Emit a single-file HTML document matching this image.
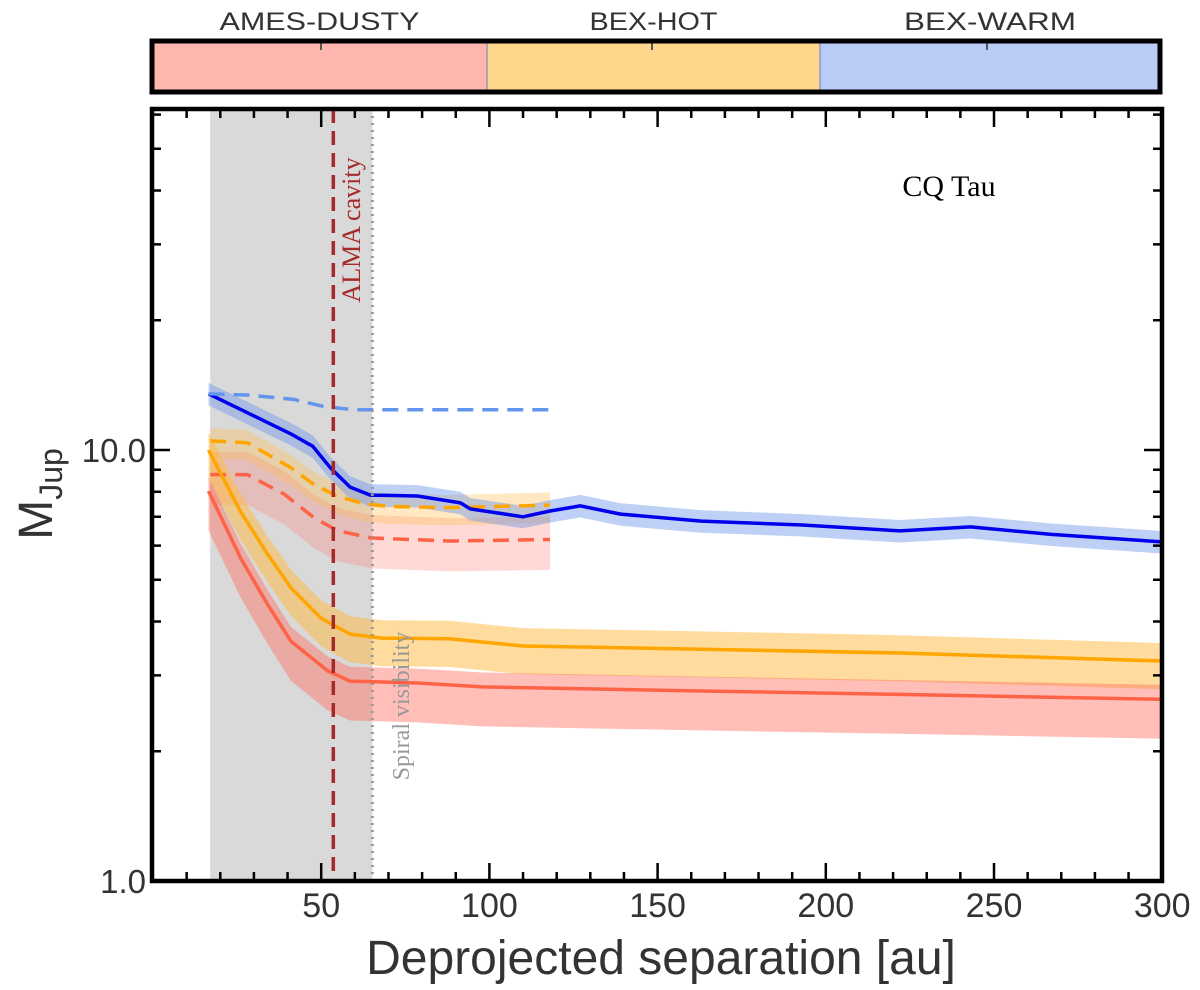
<!DOCTYPE html>
<html><head><meta charset="utf-8"><style>
body{margin:0;background:#fff;}
svg{display:block;}
text{font-family:"Liberation Sans",sans-serif;}
</style></head><body>
<svg id="c" width="1200" height="990" xmlns="http://www.w3.org/2000/svg"></svg>
<script>
// ---- data ----
const blueX=[16.5,29,41,47.5,52.7,58.6,64.6,78.6,91.4,94.3,110,118,127,139,163,193,222,243,267,300];
const blueM=[13.5,12.1,10.9,10.2,9.1,8.2,7.86,7.82,7.54,7.30,7.00,7.22,7.42,7.10,6.84,6.70,6.49,6.63,6.37,6.12];
const blueDX=[16.5,29,42,51,60,75,95,118];
const blueDM=[13.5,13.4,13.1,12.6,12.4,12.4,12.4,12.4];
const orX=[16.5,26,34,41,50,58.6,68,88,110,163,222,300];
const orM=[10.0,7.2,5.74,4.79,4.07,3.74,3.66,3.65,3.51,3.45,3.38,3.24];
const orDX=[17,28,41,48,55,63,70,88,118];
const orDM=[10.5,10.4,9.1,8.3,7.8,7.5,7.4,7.35,7.45];
const rdX=[16.5,26,34,41,52,58.6,78.6,98,163,222,300];
const rdM=[8.03,5.62,4.39,3.6,3.07,2.91,2.88,2.82,2.76,2.71,2.64];
const rdDX=[17,28,39,48,55,65,88,118];
const rdDM=[8.77,8.77,7.9,6.95,6.49,6.25,6.15,6.2];
const xTicks=[50,100,150,200,250,300];
const yTicks=[1,10];
const yTickLabels=["1.0","10.0"];
const modelNames=["AMES-DUSTY","BEX-HOT","BEX-WARM"];
const almaCavity=53.6, spiralVis=65.2, grayStart=17;

// ---- axes ----
const X0=153,XS=3.364,Y1=881,DEC=431;
const xs=v=>X0+v*XS;
const ys=m=>Y1-Math.log10(m)*DEC;
const L=152,R=1162,T=109,B=881;
const svg=document.getElementById('c');
const NS='http://www.w3.org/2000/svg';
function mk(tag,attrs,parent){const e=document.createElementNS(NS,tag);for(const k in attrs)e.setAttribute(k,attrs[k]);(parent||svg).appendChild(e);return e;}
function path(xa,ya,f){return xa.map((x,i)=>(i?'L':'M')+xs(x).toFixed(1)+','+ys(ya[i]*(f||1)).toFixed(1)).join('');}
function band(xa,ya,up,dn){const a=xa.map((x,i)=>[xs(x),ys(ya[i]*up)]);const b=xa.map((x,i)=>[xs(x),ys(ya[i]*dn)]).reverse();return 'M'+a.concat(b).map(p=>p[0].toFixed(1)+','+p[1].toFixed(1)).join('L')+'Z';}

// colorbar
const cb=[['#FFB6AE',152,487,200],['#FFD78C',487,820,128],['#B9CCF5',820,1160,172]];
cb.forEach((c,i)=>{
 let r=mk('rect',{x:c[1],y:41,width:c[2]-c[1],height:51,fill:c[0]});
 
 
 let t=mk('text',{x:(c[1]+c[2])/2,y:30,'text-anchor':'middle','font-size':'25',fill:'#333',textLength:c[3],lengthAdjust:'spacingAndGlyphs'});
 t.textContent=modelNames[i];
 
 
 mk('line',{x1:[321,652,987][i],y1:43,x2:[321,652,987][i],y2:50,stroke:'#555','stroke-width':2});
});
mk('line',{x1:487,y1:41,x2:487,y2:92,stroke:'#6a7fc0','stroke-width':1});
mk('line',{x1:820,y1:41,x2:820,y2:92,stroke:'#6a7fc0','stroke-width':1});
let cbf=mk('rect',{x:152,y:41,width:1008,height:51,fill:'none',stroke:'#000','stroke-width':5});



// gray region
let gr=mk('rect',{x:xs(grayStart),y:T,width:xs(spiralVis)-xs(grayStart),height:B-T,fill:'#d9d9d9'});



// bands
const series=[
 {n:'red-dashed',x:rdDX,m:rdDM,c:'#FF6347',b:'rgba(255,130,115,0.3)',up:1.13,dn:0.85,d:true},
 {n:'orange-dashed',x:orDX,m:orDM,c:'#FFA500',b:'rgba(255,190,80,0.35)',up:1.07,dn:0.91,d:true},
 {n:'blue-solid',x:blueX,m:blueM,c:'#0000EE',b:'rgba(110,150,235,0.45)',up:1.06,dn:0.94,d:false},
 {n:'orange-solid',x:orX,m:orM,c:'#FFA500',b:'rgba(255,185,60,0.5)',up:1.10,dn:0.86,d:false},
 {n:'red-solid',x:rdX,m:rdM,c:'#FF6347',b:'rgba(255,110,95,0.45)',up:1.08,dn:0.81,d:false}
];
series.forEach(s=>{
 let p=mk('path',{d:band(s.x,s.m,s.up,s.dn),fill:s.b,stroke:'none'});
 
 
});
series.forEach(s=>{
 let p=mk('path',{d:path(s.x,s.m),fill:'none',stroke:s.c,'stroke-width':3.5,'stroke-dasharray':s.d?'16,9':'none','stroke-linejoin':'round'});
 
 
});
let bd=mk('path',{d:path(blueDX,blueDM),fill:'none',stroke:'#6495ED','stroke-width':3.5,'stroke-dasharray':'16,9'});



// vertical lines
let al=mk('line',{x1:xs(almaCavity),y1:T,x2:xs(almaCavity),y2:B,stroke:'#A52A2A','stroke-width':3.5,'stroke-dasharray':'14,8'});


let sv=mk('line',{x1:xs(spiralVis),y1:T,x2:xs(spiralVis),y2:B,stroke:'#999','stroke-width':3,'stroke-dasharray':'2,5'});


let at=mk('text',{x:0,y:0,transform:'translate(360,230) rotate(-90)','text-anchor':'middle','font-size':'26',fill:'#A52A2A',style:'font-family:"Liberation Serif",serif'});
at.textContent='ALMA cavity';


let st=mk('text',{x:0,y:0,transform:'translate(409,706) rotate(-90)','text-anchor':'middle','font-size':'24',fill:'#999',style:'font-family:"Liberation Serif",serif'});
st.textContent='Spiral visibility';


let ct=mk('text',{x:949,y:196,'text-anchor':'middle','font-size':'30',fill:'#000',style:'font-family:"Liberation Serif",serif'});
ct.textContent='CQ Tau';



// ticks
for(let v=10;v<=300;v+=10){
 const maj=v%50===0, len=maj?18:9, x=xs(v);
 mk('line',{x1:x,y1:B,x2:x,y2:B-len,stroke:'#000','stroke-width':2.5});
 mk('line',{x1:x,y1:T,x2:x,y2:T+len,stroke:'#000','stroke-width':2.5});
}
xTicks.forEach(v=>{
 let t=mk('text',{x:xs(v),y:917,'text-anchor':'middle','font-size':'34',fill:'#333'});
 t.textContent=String(v);
 
 
});
for(let d=0;d<2;d++)for(let k=1;k<10;k++){
 const m=k*Math.pow(10,d), y=ys(m); if(y<T)continue;
 const len=k===1?18:9;
 mk('line',{x1:L,y1:y,x2:L+len,y2:y,stroke:'#000','stroke-width':2.5});
 mk('line',{x1:R,y1:y,x2:R-len,y2:y,stroke:'#000','stroke-width':2.5});
}
yTicks.forEach((v,i)=>{
 let t=mk('text',{x:146,y:ys(v)+12,'text-anchor':'end','font-size':'33',fill:'#333'});
 t.textContent=yTickLabels[i];
 
 
});
let fr=mk('rect',{x:L,y:T,width:R-L,height:B-T,fill:'none',stroke:'#000','stroke-width':4.5});



let xt=mk('text',{x:661,y:974,'text-anchor':'middle','font-size':'48',fill:'#333'});
xt.textContent='Deprojected separation [au]';


let yt=mk('text',{x:0,y:0,transform:'translate(52,494) rotate(-90)','text-anchor':'middle','font-size':'48',fill:'#333'});
yt.innerHTML='M<tspan font-size="32" dy="10">Jup</tspan>';


</script>
</body></html>
